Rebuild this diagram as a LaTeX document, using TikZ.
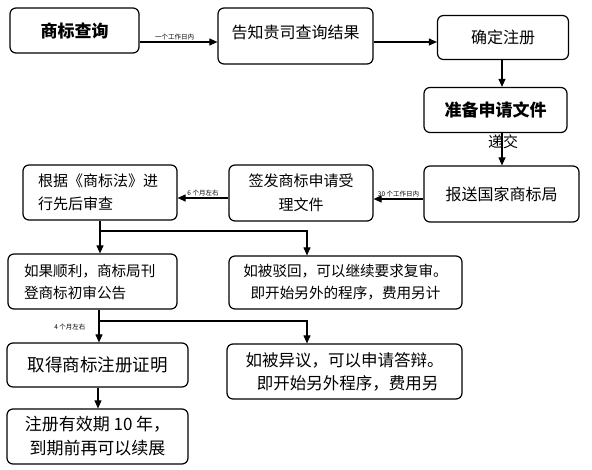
\documentclass[tikz,border=0pt]{standalone}
\usepackage{fontspec}
\setmainfont{Noto Sans CJK SC}
\usetikzlibrary{arrows.meta}
\tikzset{
  box/.style={draw, line width=1.2pt, rounded corners=6pt, inner sep=0pt, align=center},
  arr/.style={line width=1.1pt, -{Triangle[length=8pt,width=7pt]}},
  ln/.style={line width=1.1pt},
  small/.style={font=\fontsize{6.5}{7}\selectfont, inner sep=1pt},
  fs/.style={font=\fontsize{#1}{#1}\selectfont}
}
\begin{document}
\begin{tikzpicture}[x=1pt,y=-1pt]
\useasboundingbox (0,0) rectangle (592,469);
% top row
\node[box, minimum width=129pt, minimum height=45pt, fs=17] (b1) at (74.5,30.5) {\bfseries 商标查询};
\node[box, minimum width=155pt, minimum height=56pt, fs=16, text depth=8pt] (b2) at (295.5,36) {告知贵司查询结果};
\node[box, minimum width=131pt, minimum height=44pt, fs=16] (b3) at (503,37.5) {确定注册};
\node[box, minimum width=143pt, minimum height=45pt, fs=17] (b4) at (495.5,110) {\bfseries 准备申请文件};
\node[box, minimum width=155pt, minimum height=56pt, fs=16] (b5) at (501.5,194) {报送国家商标局};
\node[box, minimum width=144pt, minimum height=56pt, font=\fontsize{15}{24}\selectfont] (b6) at (301,193) {签发商标申请受\\理文件};
\node[box, minimum width=154pt, minimum height=55pt, text width=124pt, align=left, font=\fontsize{15}{23}\selectfont] (b7) at (100,192.5) {根据《商标法》进\\行先后审查};
% middle
\node[box, minimum width=169pt, minimum height=55pt, text width=137pt, align=left, font=\fontsize{14.6}{22}\selectfont] (b8) at (92.5,281.5) {如果顺利，商标局刊\\登商标初审公告};
\node[box, minimum width=233pt, minimum height=53pt, font=\fontsize{14.6}{22}\selectfont] (b9) at (345.5,282.5) {如被驳回，可以继续要求复审。\\即开始另外的程序，费用另计};
% bottom
\node[box, minimum width=181pt, minimum height=44pt, fs=17.5] (b10) at (97.5,365) {取得商标注册证明};
\node[box, minimum width=235pt, minimum height=55pt, font=\fontsize{16.5}{23}\selectfont] (b11) at (344.5,371.5) {如被异议，可以申请答辩。\\\hspace*{6pt}即开始另外程序，费用另};
\node[box, minimum width=181pt, minimum height=55pt, font=\fontsize{17}{24}\selectfont] (b12) at (97.5,436.5) {注册有效期 10 年，\\到期前再可以续展};
% connectors
\draw[arr] (b1.east |- 0,42) -- node[small, above, pos=0.45] {一个工作日内} (b2.west |- 0,42);
\draw[arr] (b2.east |- 0,42) -- (b3.west |- 0,42);
\draw[arr] (b3.south -| 502,0) -- (b4.north -| 502,0);
\draw[arr] (b4.south -| 502,0) -- (b5.north -| 502,0);
\node[fs=15, inner sep=0pt] (dj) at (503,142) {递交};
\draw[arr] (b5.west |- 0,199) -- node[small, above, pos=0.5] {30 个工作日内} (b6.east |- 0,199);
\draw[arr] (b6.west |- 0,198) -- node[small, above, pos=0.5] {6 个月左右} (b7.east |- 0,198);
\coordinate (j1) at (100,231);
\coordinate (j1r) at (307,231);
\draw[ln] (b7.south -| j1) -- (j1);
\draw[arr] (j1) -- (b8.north -| j1);
\draw[arr] (j1) -- (j1r) -- (b9.north -| j1r);
\coordinate (j2) at (99,321);
\coordinate (j2r) at (307,321);
\draw[ln] (b8.south -| j2) -- (j2);
\draw[arr] (j2) -- node[small, left, pos=0.3, xshift=-12pt] {4 个月左右} (b10.north -| j2);
\draw[arr] (j2) -- (j2r) -- (b11.north -| j2r);
\draw[arr] (b10.south -| 98,0) -- (b12.north -| 98,0);
\end{tikzpicture}
\end{document}
